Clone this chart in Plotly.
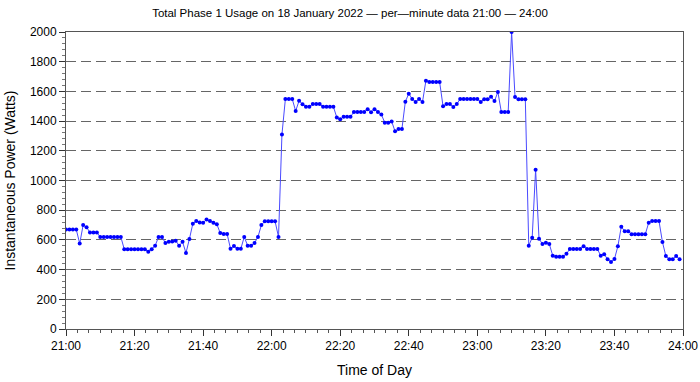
import plotly.graph_objects as go

# Per-minute power readings, 21:00 .. 23:59 (Watts)
watts = [
    670, 670, 670, 670, 575, 700, 685, 650, 650, 650,
    620, 620, 620, 620, 620, 620, 620, 537, 537, 537,
    537, 537, 537, 537, 520, 537, 560, 620, 620, 579,
    587, 590, 595, 561, 587, 512, 606, 709, 727, 718,
    715, 738, 727, 715, 706, 646, 640, 640, 540, 559,
    540, 540, 620, 561, 561, 579, 620, 700, 725, 725,
    725, 725, 620, 1310, 1549, 1549, 1549, 1468, 1537, 1513,
    1497, 1497, 1515, 1515, 1515, 1497, 1497, 1497, 1497, 1425,
    1412, 1430, 1430, 1430, 1461, 1461, 1461, 1461, 1479, 1460,
    1479, 1461, 1445, 1389, 1389, 1398, 1331, 1347, 1347, 1531,
    1585, 1549, 1529, 1549, 1529, 1672, 1663, 1663, 1663, 1663,
    1500, 1515, 1515, 1495, 1515, 1549, 1549, 1549, 1549, 1549,
    1549, 1529, 1547, 1547, 1564, 1535, 1596, 1461, 1461, 1461,
    2000, 1562, 1547, 1547, 1547, 561, 615, 1073, 608, 572,
    581, 572, 494, 487, 487, 487, 507, 539, 539, 539,
    539, 557, 539, 539, 539, 539, 494, 504, 469, 451,
    471, 557, 689, 658, 658, 638, 638, 638, 638, 638,
    716, 727, 727, 727, 586, 491, 469, 469, 491, 469,
]
minutes = list(range(len(watts)))  # minutes after 21:00

tick_minutes = [0, 20, 40, 60, 80, 100, 120, 140, 160, 180]
tick_labels = ["21:00", "21:20", "21:40", "22:00", "22:20", "22:40",
               "23:00", "23:20", "23:40", "24:00"]
y_ticks = [0, 200, 400, 600, 800, 1000, 1200, 1400, 1600, 1800, 2000]

FONT = "Liberation Sans, Arial, sans-serif"

fig = go.Figure()
fig.add_trace(go.Scatter(
    x=minutes, y=watts, mode="lines+markers",
    line=dict(color="#4a4aff", width=1),
    marker=dict(color="#0000ff", size=4),
    showlegend=False,
))

fig.update_layout(
    width=700, height=382,
    margin=dict(l=66, r=17, t=32, b=53, autoexpand=False),
    paper_bgcolor="white", plot_bgcolor="white",
    font=dict(family=FONT, size=12, color="black"),
    title=dict(
        text="Total Phase 1 Usage on 18 January 2022 \u2014 per\u2014minute data 21:00 \u2014 24:00",
        x=0.5, xanchor="center", y=1 - 13 / 382, yanchor="middle",
        font=dict(family=FONT, size=11.5, color="black"),
        automargin=False,
    ),
)

fig.update_xaxes(
    range=[0, 180], tickmode="array", tickvals=tick_minutes, ticktext=tick_labels,
    ticks="outside", ticklen=6, tickcolor="#333", tickwidth=1,
    showline=True, linecolor="#555", linewidth=1, mirror=True,
    showgrid=False, zeroline=False, automargin=False,
    minor=dict(tickmode="linear", tick0=0, dtick=20 / 6, ticks="outside",
               ticklen=3, tickcolor="#555", showgrid=False),
    tickfont=dict(size=12),
    title=dict(text="Time of Day", font=dict(size=14), standoff=12),
)
fig.update_yaxes(
    range=[0, 2000], tickmode="array", tickvals=y_ticks,
    ticks="outside", ticklen=6, tickcolor="#333", tickwidth=1,
    showline=True, linecolor="#555", linewidth=1, mirror=True,
    showgrid=True, gridcolor="#666", gridwidth=1, griddash="10px,5px",
    zeroline=False, automargin=False,
    minor=dict(tickmode="linear", tick0=0, dtick=40, ticks="outside",
               ticklen=3, tickcolor="#777", showgrid=False),
    tickfont=dict(size=12),
    title=dict(text="Instantaneous Power (Watts)", font=dict(size=14), standoff=10),
)

fig.write_html("out.html")
